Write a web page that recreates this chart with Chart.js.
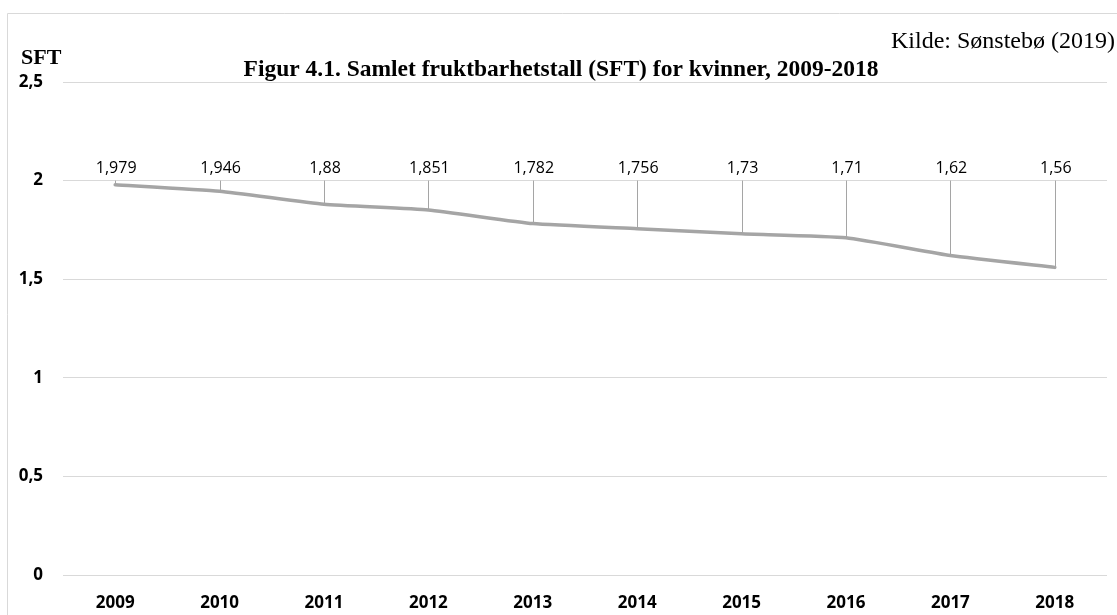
<!DOCTYPE html>
<html>
<head>
<meta charset="utf-8">
<script src="https://cdn.jsdelivr.net/npm/chart.js@4.4.1/dist/chart.umd.min.js"></script>
<style>
  html, body { margin: 0; padding: 0; background: #fff; }
  #wrap { width: 1117px; height: 615px; position: relative; }
</style>
</head>
<body>
<div id="wrap"><canvas id="sftChart"></canvas></div>
<script>
// --- data ---
const years = ['2009', '2010', '2011', '2012', '2013', '2014', '2015', '2016', '2017', '2018'];
const sftValues = [1.979, 1.946, 1.88, 1.851, 1.782, 1.756, 1.73, 1.71, 1.62, 1.56];
const yTicks = [0, 0.5, 1, 1.5, 2, 2.5];

const titleText = 'Figur 4.1. Samlet fruktbarhetstall (SFT) for kvinner, 2009-2018';
const sourceText = 'Kilde: Sønstebø (2019)';
const axisText = 'SFT';

const lineGrey = '#a5a5a5';
const gridGrey = '#d9d9d9';

const fmt = v => String(v).replace('.', ',');

// frame, headings and the data labels with leader lines
const decorPlugin = {
  id: 'decor',
  beforeDraw(chart) {
    const ctx = chart.ctx;
    ctx.save();
    ctx.strokeStyle = gridGrey;
    ctx.lineWidth = 1;
    ctx.beginPath();
    ctx.moveTo(7.5, 615);
    ctx.lineTo(7.5, 13.5);
    ctx.lineTo(1117, 13.5);
    ctx.stroke();
    ctx.restore();
  },
  afterDraw(chart) {
    const ctx = chart.ctx;
    ctx.save();
    ctx.fillStyle = '#000';
    ctx.textBaseline = 'middle';

    ctx.font = 'bold 23.5px "Liberation Serif", serif';
    ctx.textAlign = 'center';
    ctx.fillText(titleText, 561, 70);

    ctx.font = '24px "Liberation Serif", serif';
    ctx.textAlign = 'right';
    ctx.fillText(sourceText, 1115, 42);

    ctx.font = 'bold 22px "Liberation Serif", serif';
    ctx.textAlign = 'left';
    ctx.fillText(axisText, 21, 58);
    ctx.restore();
  },
  afterDatasetsDraw(chart) {
    const ctx = chart.ctx;
    const yScale = chart.scales.y;
    const meta = chart.getDatasetMeta(0);
    const baseY = yScale.getPixelForValue(2);
    ctx.save();
    ctx.strokeStyle = lineGrey;
    ctx.lineWidth = 1;
    ctx.font = '16px "Open Sans", sans-serif';
    ctx.fillStyle = '#000';
    ctx.textAlign = 'center';
    ctx.textBaseline = 'middle';
    meta.data.forEach((pt, i) => {
      ctx.beginPath();
      ctx.moveTo(Math.round(pt.x) + 0.5, baseY);
      ctx.lineTo(Math.round(pt.x) + 0.5, pt.y);
      ctx.stroke();
      ctx.fillText(fmt(sftValues[i]), pt.x + 1, baseY - 12);
    });
    ctx.restore();
  }
};

const ctx = document.getElementById('sftChart').getContext('2d');
new Chart(ctx, {
  type: 'line',
  data: {
    labels: years,
    datasets: [{
      data: sftValues,
      borderColor: lineGrey,
      borderWidth: 3.5,
      pointRadius: 0,
      tension: 0.15,
      borderCapStyle: 'round'
    }]
  },
  options: {
    responsive: true,
    maintainAspectRatio: false,
    animation: false,
    layout: { padding: { top: 82, right: 10, bottom: 0, left: 0 } },
    plugins: {
      legend: { display: false },
      title: { display: false },
      tooltip: { enabled: false }
    },
    scales: {
      x: {
        offset: true,
        grid: { display: false, drawTicks: false },
        border: { display: false },
        ticks: {
          color: '#000',
          padding: 18,
          font: { family: '"Open Sans", sans-serif', size: 17, weight: 'bold' }
        },
        afterFit: s => { s.height = 40; }
      },
      y: {
        min: 0,
        max: 2.5,
        afterBuildTicks: s => { s.ticks = yTicks.map(v => ({ value: v })); },
        grid: { color: gridGrey, drawTicks: false },
        border: { display: false },
        ticks: {
          color: '#000',
          padding: 20,
          font: { family: '"Open Sans", sans-serif', size: 17, weight: 'bold' },
          callback: v => fmt(v)
        },
        afterFit: s => { s.width = 63; }
      }
    }
  },
  plugins: [decorPlugin]
});
</script>
</body>
</html>
